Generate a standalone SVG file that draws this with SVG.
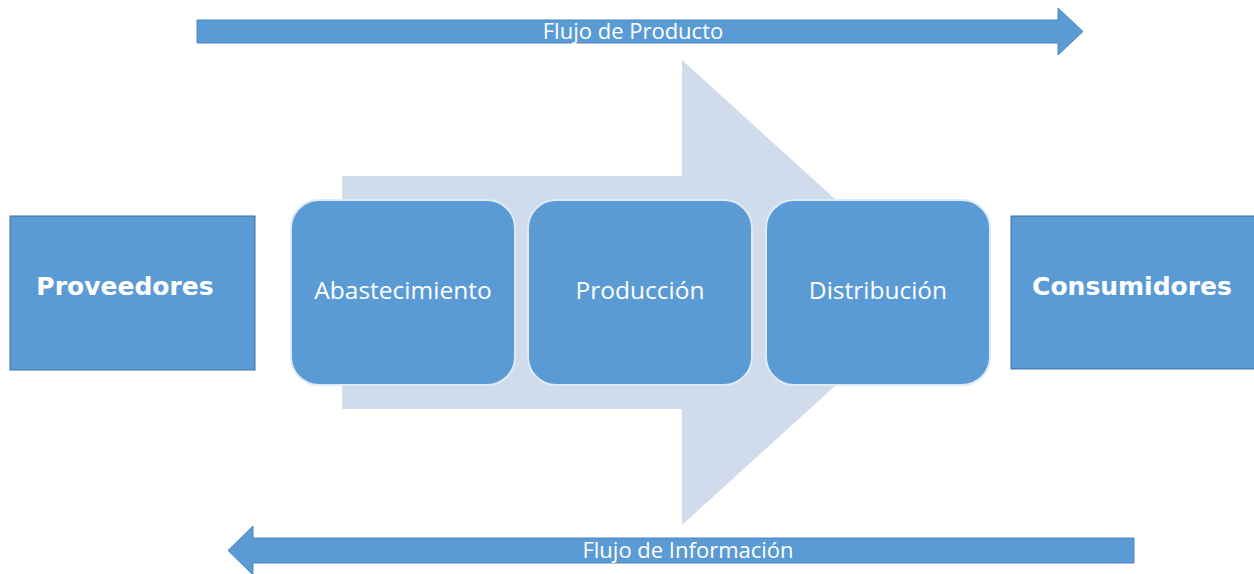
<svg xmlns="http://www.w3.org/2000/svg" width="1254" height="574" viewBox="0 0 1254 574">
<style>
.bg{fill:#ffffff}
.big{fill:#D0DCEC}
.flow{fill:#5B9BD5;stroke:#4A86BF;stroke-width:1}
.box{fill:#5B9BD5;stroke:#41719C;stroke-width:1}
.step{fill:#5B9BD5;stroke:#DDEBF7;stroke-width:2}
.t{font-family:"Open Sans","Liberation Sans",sans-serif;fill:#ffffff;text-anchor:middle}
.tb{font-family:"DejaVu Sans","Liberation Sans",sans-serif;font-weight:bold;fill:#ffffff;text-anchor:middle}
</style>
<rect class="bg" x="0" y="0" width="1254" height="574"/>
<g id="big-arrow">
<polygon class="big" points="342,176 682,176 682,60 938,292.5 682,525 682,409 342,409"/>
</g>
<g id="connectors">
<g id="flujo-producto">
<polygon class="flow" points="197,20 1058,20 1058,8 1083,31.5 1058,55 1058,43 197,43"/>
<text class="t" x="633" y="39" font-size="22">Flujo de Producto</text>
</g>
<g id="flujo-informacion">
<polygon class="flow" points="1134,538 253,538 253,526 228,550.5 253,575 253,563 1134,563"/>
<text class="t" x="688" y="558" font-size="22">Flujo de Información</text>
</g>
</g>
<g id="proveedores">
<rect class="box" x="10" y="216" width="245" height="154"/>
<text class="tb" x="125" y="295" font-size="25">Proveedores</text>
</g>
<g id="abastecimiento">
<rect class="step" x="291" y="200" width="224" height="185" rx="28" ry="28"/>
<text class="t" x="403" y="299" font-size="24.5">Abastecimiento</text>
</g>
<g id="produccion">
<rect class="step" x="528" y="200" width="224" height="185" rx="28" ry="28"/>
<text class="t" x="640" y="299" font-size="24.5">Producción</text>
</g>
<g id="distribucion">
<rect class="step" x="766" y="200" width="224" height="185" rx="28" ry="28"/>
<text class="t" x="878" y="299" font-size="24.5">Distribución</text>
</g>
<g id="consumidores">
<rect class="box" x="1011" y="216" width="245" height="153"/>
<text class="tb" x="1132" y="295" font-size="25">Consumidores</text>
</g>
</svg>
